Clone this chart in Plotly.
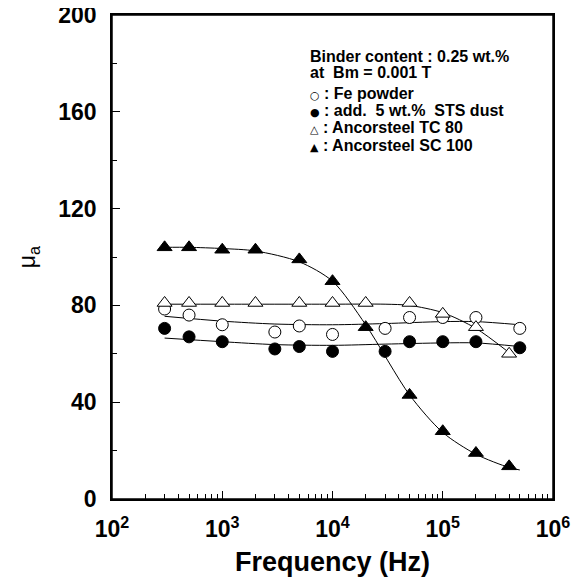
import plotly.graph_objects as go

# ---- data ----
freq_tri_f = [300, 500, 1000, 2000, 5000, 10000, 20000, 50000, 100000, 200000, 400000]
mu_tri_f = [104, 104, 103, 103, 99, 90, 71, 43, 28, 19, 13.5]

freq_tri_o = [300, 500, 1000, 2000, 5000, 10000, 20000, 50000, 100000, 200000, 400000]
mu_tri_o = [81, 81, 81, 81, 81, 81, 81, 81, 76.5, 71, 60]

freq_circ_o = [300, 500, 1000, 3000, 5000, 10000, 30000, 50000, 100000, 200000, 500000]
mu_circ_o = [78.5, 76, 72, 69, 71.5, 68, 70.5, 75, 75, 75, 70.5]

freq_circ_f = [300, 500, 1000, 3000, 5000, 10000, 30000, 50000, 100000, 200000, 500000]
mu_circ_f = [70.5, 67, 65, 62, 63, 61, 61, 65, 65, 65, 62.5]

# fitted curves
fit_tri_f_x = [300, 500, 1000, 2000, 5000, 10000, 20000, 50000, 100000, 200000, 400000, 500000]
fit_tri_f_y = [104, 104, 103.5, 102.5, 98, 90, 72, 43, 27.5, 18.5, 13, 12]
fit_tri_o_x = [300, 1000, 3000, 10000, 30000, 50000, 100000, 200000, 400000]
fit_tri_o_y = [80.5, 80.5, 80.5, 80.5, 80.5, 80, 77, 70.5, 60.5]
fit_circ_o_x = [300, 1000, 3000, 10000, 30000, 100000, 200000, 500000]
fit_circ_o_y = [75.5, 73.5, 72.3, 72, 72.5, 73.3, 73.3, 72]
fit_circ_f_x = [300, 1000, 3000, 10000, 30000, 100000, 200000, 500000]
fit_circ_f_y = [66.5, 65, 63.8, 63.5, 64, 64.5, 64.5, 63]

legend_title = ["Binder content : 0.25 wt.%", "at  Bm = 0.001 T"]
legend_symbols = ["○", "●", "△", "▲"]
names = ["Fe powder", "add.  5 wt.%  STS dust", "Ancorsteel TC 80", "Ancorsteel SC 100"]

x_tickvals = [100, 1000, 10000, 100000, 1000000]
x_ticktext = ["10<sup>2</sup>", "10<sup>3</sup>", "10<sup>4</sup>", "10<sup>5</sup>", "10<sup>6</sup>"]
y_tickvals = [0, 40, 80, 120, 160, 200]

FONT = "Liberation Sans, Arial, sans-serif"

fig = go.Figure()
line_style = dict(color="black", width=1, shape="spline", smoothing=0.8)
for fx, fy in [(fit_circ_o_x, fit_circ_o_y), (fit_circ_f_x, fit_circ_f_y),
               (fit_tri_o_x, fit_tri_o_y), (fit_tri_f_x, fit_tri_f_y)]:
    fig.add_trace(go.Scatter(x=fx, y=fy, mode="lines", line=line_style,
                             showlegend=False, hoverinfo="skip"))

series = [
    (freq_circ_o, mu_circ_o, "circle", "white", 12),
    (freq_circ_f, mu_circ_f, "circle", "black", 12),
    (freq_tri_o, mu_tri_o, "triangle-up", "white", 13),
    (freq_tri_f, mu_tri_f, "triangle-up", "black", 13),
]
for (x, y, sym, fill, sz), nm in zip(series, names):
    fig.add_trace(go.Scatter(
        x=x, y=y, mode="markers", name=nm, showlegend=False,
        marker=dict(symbol=sym, size=sz, color=fill, line=dict(color="black", width=1)),
    ))

# legend block drawn as text lines
leg_x = 0.445
title_y = [0.915, 0.882]
item_y = [0.837, 0.802, 0.767, 0.730]
for t, yy in zip(legend_title, title_y):
    fig.add_annotation(xref="paper", yref="paper", x=leg_x, y=yy, xanchor="left",
                       yanchor="middle", showarrow=False, text=t,
                       font=dict(family=FONT, size=16, weight="bold", color="black"))
for s, nm, yy in zip(legend_symbols, names, item_y):
    fig.add_annotation(xref="paper", yref="paper", x=leg_x, y=yy, xanchor="left",
                       yanchor="middle", showarrow=False,
                       text='<span style="font-size:11px;font-family:DejaVu Sans">' + s + '</span> : ' + nm,
                       font=dict(family=FONT, size=16, weight="bold", color="black"))

# axis titles
fig.add_annotation(xref="paper", yref="paper", x=0.5, y=-0.13, xanchor="center",
                   yanchor="middle", showarrow=False, text="Frequency (Hz)",
                   font=dict(family=FONT, size=27, weight="bold", color="black"))
fig.add_annotation(xref="paper", yref="paper", x=-0.19, y=0.5, xanchor="center",
                   yanchor="middle", showarrow=False, text="μ<sub>a</sub>", textangle=-90,
                   font=dict(family=FONT, size=23, color="black"))

# frame around the plotting area
fig.add_shape(type="rect", xref="paper", yref="paper", x0=0, x1=1, y0=0, y1=1,
              line=dict(color="black", width=1.5), layer="above")

tick_font = dict(family=FONT, size=23, weight="bold", color="black")
# the page body adds an 8px offset, so the figure is 575px with shifted margins
fig.update_layout(
    width=575, height=575,
    margin=dict(l=104, r=30, t=7, b=84),
    paper_bgcolor="white", plot_bgcolor="white",
    font=dict(family=FONT, color="black"),
    showlegend=False,
    xaxis=dict(
        type="log", range=[2, 6], automargin=False,
        tickvals=x_tickvals, ticktext=x_ticktext,
        ticks="inside", ticklen=8, tickwidth=1, tickcolor="black",
        minor=dict(ticks="inside", ticklen=5, dtick="D1", tickcolor="black", showgrid=False),
        showline=True, linecolor="black", linewidth=1.5, mirror=True,
        showgrid=False, zeroline=False, ticklabelstandoff=9,
        ticklabeloverflow="allow", tickfont=tick_font,
    ),
    yaxis=dict(
        range=[0, 200], automargin=False,
        tickvals=y_tickvals,
        ticks="inside", ticklen=8, tickwidth=1, tickcolor="black",
        minor=dict(ticks="inside", ticklen=5, dtick=20, tickcolor="black", showgrid=False),
        showline=True, linecolor="black", linewidth=1.5, mirror=True,
        showgrid=False, zeroline=False, ticklabelstandoff=9,
        ticklabeloverflow="allow", tickfont=tick_font,
    ),
)
fig.write_html("out.html")
